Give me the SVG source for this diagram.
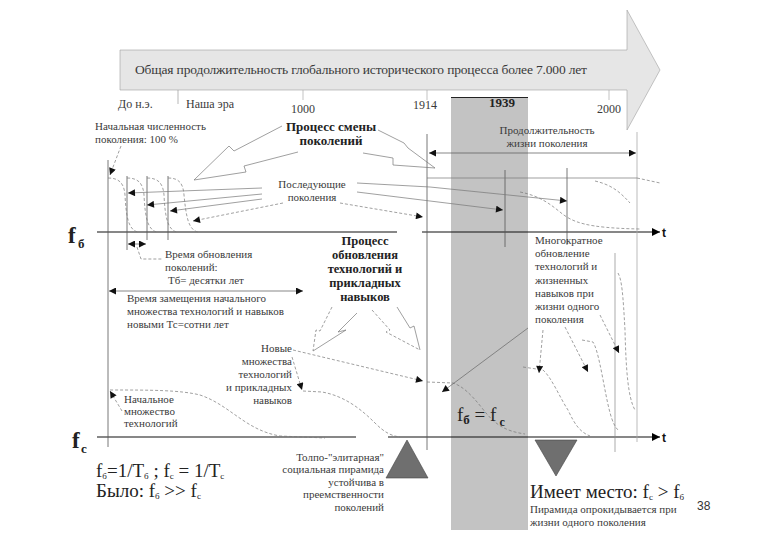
<svg xmlns="http://www.w3.org/2000/svg" width="780" height="540" viewBox="0 0 780 540">
<defs>
<marker id="ah" viewBox="0 0 10 10" refX="10" refY="5" markerWidth="9" markerHeight="7" markerUnits="userSpaceOnUse" orient="auto-start-reverse"><path d="M0,0 L10,5 L0,10 z" fill="#111"/></marker>
<marker id="at" viewBox="0 0 10 10" refX="10" refY="5" markerWidth="15" markerHeight="8" markerUnits="userSpaceOnUse" orient="auto"><path d="M0,0 L10,5 L0,10 z" fill="#000"/></marker>
</defs>
<style>
text{font-family:'Liberation Serif','Times New Roman','DejaVu Serif',serif}
.t{fill:#3a3a3a}
.s{font-size:11px}
.m{font-size:12px}
.b{font-weight:bold;fill:#222}
.f{font-size:19px;fill:#222}
.d{fill:none;stroke:#777;stroke-width:0.7;stroke-dasharray:3 2}
.l{fill:none;stroke:#777;stroke-width:0.7}
.v{stroke:#555;stroke-width:0.8}
.ax{stroke:#111;stroke-width:1.1}
.sans{font-family:'Liberation Sans',Arial,sans-serif}
</style>
<rect width="780" height="540" fill="#fff"/>

<g id="timeline" font-family="Liberation Serif, serif">
<polygon points="120,50 627,50 627,10 660,70 627,130 627,90 120,90" fill="#e6e6e6" stroke="#a0a0a0" stroke-width="0.6"/>
<text class="t" x="135" y="74" font-size="13.5" textLength="452">Общая продолжительность глобального исторического процесса более 7.000 лет</text>
<line x1="178" y1="90" x2="178" y2="104" stroke="#999" stroke-width="0.7"/>
<line x1="303" y1="90" x2="303" y2="100" stroke="#aaa" stroke-width="0.7"/>
<line x1="427" y1="90" x2="427" y2="100" stroke="#aaa" stroke-width="0.7"/>
<line x1="609" y1="90" x2="609" y2="100" stroke="#aaa" stroke-width="0.7"/>
<text class="t m" x="118" y="108">До н.э.</text>
<text class="t m" x="186" y="108">Наша эра</text>
<text class="t m" x="291" y="113">1000</text>
<text class="t m" x="413" y="109">1914</text>
<text class="t m" x="597" y="113">2000</text>
</g>

<g id="band">
<rect x="451" y="97" width="77" height="433" fill="#c3c3c3"/>
<line x1="451" y1="97.5" x2="528" y2="97.5" stroke="#222" stroke-width="1.2"/>
<text class="t b" font-size="13" x="489" y="107">1939</text>
</g>

<g id="axes">
<line class="ax" x1="97" y1="232" x2="397" y2="232"/>
<line class="ax" x1="422" y1="232" x2="660" y2="232" marker-end="url(#at)"/>
<text class="sans" x="662" y="237" font-weight="bold" font-size="12" fill="#111">t</text>
<line class="ax" x1="97" y1="437" x2="356" y2="437"/>
<line class="ax" x1="388" y1="437" x2="660" y2="437" marker-end="url(#at)"/>
<text class="sans" x="662" y="442" font-weight="bold" font-size="12" fill="#111">t</text>
<text class="t b" x="68" y="243" font-size="23">f</text><text class="t b" x="78" y="248" font-size="13">б</text>
<text class="t b" x="72" y="448" font-size="23">f</text><text class="t b" x="81" y="453" font-size="13">с</text>
</g>

<g id="verticals">
<line class="v" x1="108" y1="160" x2="108" y2="447"/>
<line class="v" x1="127" y1="176" x2="127" y2="250"/>
<line class="v" x1="147" y1="176" x2="147" y2="240"/>
<line class="v" x1="168" y1="176" x2="168" y2="240"/>
<line class="v" x1="427" y1="134" x2="427" y2="450"/>
<line class="v" x1="505" y1="170" x2="505" y2="247"/>
<line class="v" x1="567" y1="168" x2="567" y2="245"/>
<line x1="637" y1="132" x2="637" y2="442" stroke="#aaa" stroke-width="0.8"/>
<line x1="615" y1="253" x2="615" y2="452" stroke="#888" stroke-width="0.7"/>
</g>

<g id="generation-curves">
<path class="d" d="M108,178 C118,178 124,182 125,195 C126,215 128,230 138,232"/>
<path class="d" d="M127,178 C137,178 143,182 144,195 C145,215 147,230 157,232"/>
<path class="d" d="M147,178 C157,178 163,182 164,195 C165,215 167,230 177,232"/>
<path class="d" d="M168,178 C178,178 183,182 184,195 C186,215 188,230 198,232"/>
<path class="l" d="M427,178 L637,178"/>
<path class="d" d="M637,178 L660,183"/>
<path class="d" d="M520,192 C540,196 550,204 560,212 C572,222 585,228 640,229"/>
<path class="d" d="M595,181 C612,185 620,192 630,203"/>
</g>

<g id="tech-curves">
<path class="d" d="M110,390 C150,390 180,390 200,395 C230,405 245,430 280,436 L325,438"/>
<path class="d" d="M303,391 L322,392 C345,396 362,410 375,423 C385,433 392,436 400,437"/>
<path class="d" d="M427,382 L453,383 C462,386 470,393 482,408 C495,425 505,431 525,434"/>
<path class="d" d="M523,367 L543,370 C552,378 560,398 568,410 C575,425 580,432 590,436"/>
<path class="d" d="M582,340 L593,342 C598,350 602,375 606,395 C610,415 613,425 618,430"/>
<path class="d" d="M618,273 C622,280 623,295 625,330 C626,370 628,398 635,410"/>
</g>

<g id="connectors">
<path class="d" d="M121,146 L110,175" marker-end="url(#ah)"/>
<path class="l" d="M262,188 L128,193" marker-end="url(#ah)"/>
<path class="l" d="M262,194 L147,205" marker-end="url(#ah)"/>
<path class="l" d="M262,199 L170,211" marker-end="url(#ah)"/>
<path class="d" d="M283,203 L193,221" marker-end="url(#ah)"/>
<path class="l" d="M357,183 L430,187 L567,201" marker-end="url(#ah)"/>
<path class="l" d="M357,192 L503,210" marker-end="url(#ah)"/>
<path class="d" d="M340,203 L423,217" marker-end="url(#ah)"/>
<path d="M429,153 L636,153" stroke="#555" stroke-width="0.7" marker-start="url(#ah)" marker-end="url(#ah)"/>
<path d="M128,244 L146,244" stroke="#555" stroke-width="0.7" marker-start="url(#ah)" marker-end="url(#ah)"/>
<path class="d" d="M137,247 L141,259 L163,259"/>
<path d="M109,291 L303,291" stroke="#555" stroke-width="0.7" marker-start="url(#ah)" marker-end="url(#ah)"/>
<path class="d" d="M122,411 L110,391" marker-end="url(#ah)"/>
<path class="d" d="M293,350 L423,381" marker-end="url(#ah)"/>
<path class="d" d="M292,357 L302,390" marker-end="url(#ah)"/>
<path class="d" d="M543,330 L539,373" marker-end="url(#ah)"/>
<path class="d" d="M565,327 L588,372" marker-end="url(#ah)"/>
<path class="d" d="M600,315 L619,353" marker-end="url(#ah)"/>
<path d="M528,328 L442,392" stroke="#666" stroke-width="0.7" fill="none" marker-end="url(#ah)"/>
<path class="l" d="M282,126 L234,151 L229,146 L194,180 M298,152 L244,166 L246,172 L194,180"/>
<path class="l" d="M378,130 L404,143 L408,148 L435,168 M363,153 L393,158 L393,165 L435,168"/>
<path class="d" d="M332,307 L320,331 L316,330 L313,351"/>
<path class="l" d="M357,313 L338,332 L346,330 L313,351"/>
<path class="d" d="M372,310 L390,330 L386,332 L420,350"/>
<path class="l" d="M397,307 L410,328 L414,326 L420,350"/>
</g>

<g id="labels">
<text class="t s" font-size="11.3"><tspan x="95" y="130">Начальная численность</tspan><tspan x="95" y="143">поколения: 100 %</tspan></text>
<text class="t b" font-size="13" text-anchor="middle"><tspan x="331" y="131">Процесс смены</tspan><tspan x="331" y="145">поколений</tspan></text>
<text class="t s" font-size="11.5" text-anchor="middle"><tspan x="547" y="134">Продолжительность</tspan><tspan x="547" y="147">жизни поколения</tspan></text>
<text class="t s" text-anchor="middle"><tspan x="312" y="188">Последующие</tspan><tspan x="312" y="201">поколения</tspan></text>
<text class="t s"><tspan x="165" y="258">Время обновления</tspan><tspan x="165" y="271">поколений:</tspan><tspan x="168" y="284">Тб= десятки лет</tspan></text>
<text class="t s"><tspan x="127" y="302">Время замещения начального</tspan><tspan x="127" y="315">множества технологий и навыков</tspan><tspan x="127" y="328">новыми Тс=сотни лет</tspan></text>
<text class="t b" font-size="12.5" text-anchor="middle"><tspan x="365" y="245">Процесс</tspan><tspan x="365" y="259">обновления</tspan><tspan x="365" y="273">технологий и</tspan><tspan x="365" y="287">прикладных</tspan><tspan x="365" y="301">навыков</tspan></text>
<text class="t s" text-anchor="end"><tspan x="292" y="352">Новые</tspan><tspan x="292" y="365">множества</tspan><tspan x="292" y="378">технологий</tspan><tspan x="292" y="391">и прикладных</tspan><tspan x="292" y="404">навыков</tspan></text>
<text class="t s"><tspan x="124" y="403">Начальное</tspan><tspan x="124" y="415">множество</tspan><tspan x="124" y="427">технологий</tspan></text>
<text class="t s"><tspan x="535" y="244">Многократное</tspan><tspan x="535" y="257">обновление</tspan><tspan x="535" y="270">технологий и</tspan><tspan x="535" y="284">жизненных</tspan><tspan x="535" y="297">навыков при</tspan><tspan x="535" y="310">жизни одного</tspan><tspan x="535" y="323">поколения</tspan></text>
<text class="t f" x="457" y="421">f<tspan font-size="13" font-weight="bold" dy="3">б</tspan><tspan dy="-3"> = f</tspan><tspan font-size="12" font-weight="bold" dy="5"> с</tspan></text>
</g>

<g id="pyramids">
<polygon points="386,478 428,478 407,440" fill="#6f6f6f" stroke="#444" stroke-width="0.6"/>
<polygon points="535,440 577,440 556,476" fill="#6f6f6f" stroke="#444" stroke-width="0.6"/>
<text class="t s" text-anchor="end"><tspan x="384" y="461">Толпо-"элитарная"</tspan><tspan x="384" y="473">социальная пирамида</tspan><tspan x="384" y="486">устойчива в</tspan><tspan x="384" y="498">преемственности</tspan><tspan x="384" y="511">поколений</tspan></text>
<text class="t f" x="96" y="477">f<tspan font-size="9" dy="2">б</tspan><tspan dy="-2">=1/T</tspan><tspan font-size="9" dy="2">б</tspan><tspan dy="-2"> ; f</tspan><tspan font-size="9" dy="2">с</tspan><tspan dy="-2"> = 1/T</tspan><tspan font-size="9" dy="2">с</tspan></text>
<text class="t f" x="96" y="497">Было: f<tspan font-size="9" dy="2">б</tspan><tspan dy="-2"> &gt;&gt; f</tspan><tspan font-size="9" dy="2">с</tspan></text>
<text class="t f" x="530" y="498">Имеет место: f<tspan font-size="9" dy="2">с</tspan><tspan dy="-2"> &gt; f</tspan><tspan font-size="9" dy="2">б</tspan></text>
<text class="t s"><tspan x="530" y="513">Пирамида опрокидывается при</tspan><tspan x="530" y="526">жизни одного поколения</tspan></text>
<text class="sans" x="697" y="510" font-size="12" fill="#333">38</text>
</g>
</svg>
